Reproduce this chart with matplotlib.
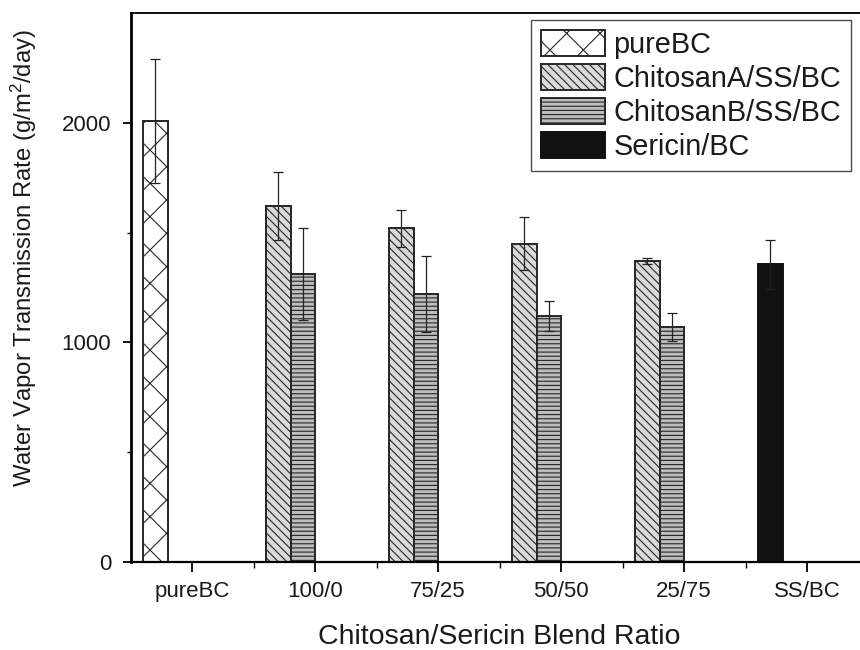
import matplotlib
matplotlib.use("Agg")
import matplotlib.pyplot as plt
import numpy as np
from matplotlib.ticker import FixedLocator

plt.rcParams['font.family'] = ['Liberation Sans', 'DejaVu Sans']
plt.rcParams['mathtext.default'] = 'regular'
plt.rcParams['hatch.linewidth'] = 0.8

# Datos
categorias = ["pureBC", "100/0", "75/25", "50/50", "25/75", "SS/BC"]
pure_bc = [2010]
pure_bc_err = [283]
chitosan_a = [1620, 1520, 1450, 1370]
chitosan_a_err = [155, 85, 120, 15]
chitosan_b = [1310, 1220, 1120, 1070]
chitosan_b_err = [210, 175, 68, 64]
sericina = [1355]
sericina_err = [110]

x = np.arange(len(categorias))
ancho = 0.2
borde = '#262626'

fig = plt.figure(figsize=(8.6, 6.5), dpi=100)
ax = fig.add_axes([0.152, 0.1358, 0.858, 0.8437])

err_kw = dict(ecolor='#222222', elinewidth=0.9, capsize=3.5, capthick=0.9)

ax.bar(x[:1] - 0.3, pure_bc, ancho, yerr=pure_bc_err, color='white',
       edgecolor=borde, hatch='x', linewidth=1.4, label='pureBC',
       error_kw=err_kw)
ax.bar(x[1:5] - 0.3, chitosan_a, ancho, yerr=chitosan_a_err, color='#d9d9d9',
       edgecolor=borde, hatch='\\\\\\\\', linewidth=1.4, label='ChitosanA/SS/BC',
       error_kw=err_kw)
ax.bar(x[1:5] - 0.1, chitosan_b, ancho, yerr=chitosan_b_err, color='#bdbdbd',
       edgecolor=borde, hatch='----', linewidth=1.4, label='ChitosanB/SS/BC',
       error_kw=err_kw)
ax.bar(x[5:] - 0.3, sericina, ancho, yerr=sericina_err, color='#111111',
       edgecolor='#111111', linewidth=1.4, label='Sericin/BC',
       error_kw=err_kw)

ax.set_xlim(-0.5, 5.5)
ax.set_ylim(0, 2500)

ax.set_xticks(x)
ax.set_xticklabels(categorias, fontsize=16, color='#1a1a1a')
ax.xaxis.set_minor_locator(FixedLocator(x[:-1] + 0.5))
ax.set_yticks([0, 1000, 2000])
ax.set_yticklabels(['0', '1000', '2000'], fontsize=16, color='#1a1a1a')
ax.yaxis.set_minor_locator(FixedLocator([500, 1500]))

ax.tick_params(axis='x', which='major', direction='out', length=7, width=1.3, pad=7)
ax.tick_params(axis='x', which='minor', direction='out', length=4, width=1.0)
ax.tick_params(axis='y', which='major', direction='out', length=6, width=1.3, pad=8)
ax.tick_params(axis='y', which='minor', direction='out', length=3, width=1.0)

ax.spines['right'].set_visible(False)
ax.spines['left'].set_linewidth(2.0)
ax.spines['bottom'].set_linewidth(1.6)
ax.spines['top'].set_linewidth(1.3)

ax.set_xlabel("Chitosan/Sericin Blend Ratio", fontsize=20.5, color='#1a1a1a', labelpad=16)
ax.set_ylabel("Water Vapor Transmission Rate (g/m$^2$/day)", fontsize=17.2, color='#1a1a1a')
ax.yaxis.set_label_coords(-0.124, 0.553)

leg = ax.legend(loc='upper left', bbox_to_anchor=(531 / 860, 1 - 20 / 650),
                bbox_transform=fig.transFigure, fontsize=20.8, frameon=True,
                fancybox=False, edgecolor='#222222', handlelength=2.2,
                handleheight=1.0, handletextpad=0.3, labelspacing=0.18,
                borderpad=0.35, borderaxespad=0)
leg.get_frame().set_linewidth(1.0)
for t in leg.get_texts():
    t.set_color('#1a1a1a')

fig.savefig("out.png", dpi=100)
